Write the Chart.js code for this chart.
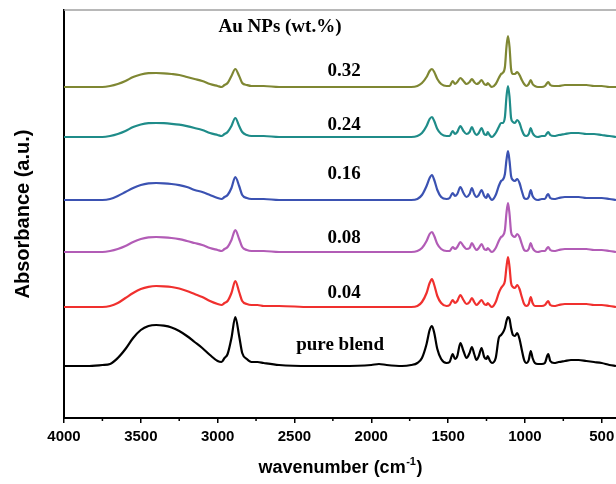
<!DOCTYPE html>
<html>
<head>
<meta charset="utf-8">
<script src="https://cdn.jsdelivr.net/npm/chart.js@4.4.0/dist/chart.umd.min.js"></script>
<style>
  body { margin: 0; background: #fff; }
  canvas { display: block; }
</style>
</head>
<body>
<canvas id="chart" width="616" height="484"></canvas>
<script>
// wavenumbers (cm-1), shared by all spectra
const wavenumbers = [4000, 3850, 3750, 3700, 3650, 3600, 3550, 3500, 3450, 3400,
  3350, 3300, 3250, 3200, 3150, 3100, 3050, 3000, 2975, 2955,
  2935, 2910, 2885, 2860, 2840, 2810, 2780, 2740, 2700, 2600,
  2400, 2200, 2000, 1950, 1900, 1800, 1740, 1700, 1670, 1640,
  1620, 1605, 1590, 1570, 1545, 1510, 1490, 1470, 1455, 1440,
  1420, 1400, 1380, 1360, 1345, 1330, 1315, 1300, 1282, 1265,
  1250, 1242, 1230, 1215, 1190, 1170, 1155, 1145, 1130, 1120,
  1110, 1100, 1090, 1078, 1065, 1050, 1035, 1020, 1005, 990,
  975, 962, 950, 935, 915, 890, 870, 855, 848, 835,
  810, 780, 740, 700, 650, 600, 550, 500, 450, 407];

// absorbance above each baseline (a.u.)
const pureBlend = [0, 0, 1, 2, 8, 17, 28, 36, 40, 41,
  40.3, 38.5, 35, 30, 24, 18, 11, 5, 4, 8,
  12, 28, 49, 30, 13, 7, 4, 4, 3, 1,
  0, 0, 1, 2, 1, 0, 1, 3, 8, 22,
  36, 40, 33, 17, 7, 3, 4, 12, 7, 10,
  23, 15, 8, 13, 19, 12, 6, 10, 18, 9,
  7, 10, 6, 3, 8, 28, 31, 33, 38, 45,
  49, 47, 38, 31, 30, 33, 27, 16, 6, 3,
  6, 15, 8, 3, 2, 2, 3, 10, 12, 5,
  3, 4, 5, 6, 6, 5, 4, 3, 1, 0];
const au004 = [0, 0, 0, 1, 4, 9, 14, 18, 20.2, 21,
  20.7, 20, 18.5, 16, 13, 10, 6, 3, 2, 4,
  6, 14, 26, 15, 6, 3, 2, 2, 1, 1,
  0, 0, 0, 0, 0, 0, 0, 1, 5, 14,
  24, 28, 22, 11, 4, 1, 2, 7, 4, 6,
  12, 7, 3, 5, 9, 5, 2, 4, 7, 3,
  2, 4, 2, 0, 5, 14, 19, 21, 26, 40,
  50, 40, 24, 20, 19, 22, 18, 10, 3, 1,
  3, 10, 4, 1, 1, 1, 2, 5, 6, 2,
  1, 2, 3, 3, 3, 3, 2, 2, 1, 0];
const au008 = [0, 0, 0, 1, 3, 6, 10, 13, 14.6, 15,
  14.7, 14, 12.8, 11, 9, 7, 4, 2, 1, 3,
  5, 12, 22, 13, 5, 2, 1, 1, 1, 0,
  0, 0, 0, 0, 0, 0, 0, 1, 4, 11,
  18, 20, 16, 8, 3, 1, 1, 5, 3, 5,
  10, 6, 3, 4, 9, 5, 2, 4, 8, 3,
  2, 4, 2, 0, 4, 11, 15, 16, 22, 39,
  49, 38, 20, 16, 15, 18, 15, 8, 2, 1,
  3, 9, 4, 1, 0, 1, 1, 4, 5, 2,
  1, 2, 3, 3, 3, 3, 2, 2, 1, 0];
const au016 = [0, 0, 0, 1, 4, 8, 12, 15, 16.6, 17,
  16.7, 16, 14.8, 13, 10, 8, 5, 2, 1, 3,
  5, 12, 23, 14, 5, 2, 1, 1, 1, 0,
  0, 0, 0, 0, 0, 0, 0, 1, 5, 14,
  22, 25, 20, 10, 3, 1, 2, 7, 4, 6,
  13, 7, 3, 6, 12, 6, 3, 5, 10, 4,
  2, 6, 3, 0, 5, 14, 19, 20, 26, 40,
  49, 39, 24, 20, 19, 21, 17, 9, 2, 1,
  3, 10, 4, 1, 0, 1, 1, 5, 6, 2,
  1, 2, 3, 3, 3, 2, 2, 2, 1, 0];
const au024 = [0, 0, 0, 1, 3, 6, 10, 12.5, 13.8, 14,
  13.8, 13.2, 12.3, 10.8, 9, 7, 4, 2, 1, 3,
  5, 11, 19, 11, 5, 2, 1, 1, 1, 0,
  0, 0, 0, 0, 0, 0, 0, 1, 4, 11,
  18, 20, 16, 8, 3, 1, 1, 6, 3, 5,
  11, 6, 3, 5, 10, 5, 2, 4, 9, 3,
  2, 5, 2, 0, 4, 10, 14, 14, 20, 40,
  51, 40, 19, 15, 14, 17, 14, 7, 2, 1,
  3, 9, 4, 1, 0, 1, 1, 4, 5, 2,
  1, 2, 3, 4, 4, 3, 3, 2, 1, 0];
const au032 = [0, 0, 0, 1, 3, 6, 10, 12.5, 13.8, 14,
  13.7, 13, 12, 10, 8, 6, 3, 1, 0, 2,
  4, 11, 18, 11, 4, 2, 1, 1, 1, 0,
  0, 0, 0, 0, 0, 0, 0, 1, 4, 10,
  16, 18, 15, 8, 3, 1, 1, 6, 3, 5,
  9, 6, 3, 5, 8, 5, 3, 4, 7, 3,
  2, 4, 2, 0, 3, 9, 13, 14, 20, 40,
  51, 40, 18, 13, 13, 15, 12, 7, 3, 1,
  3, 7, 3, 1, 0, 0, 1, 4, 5, 2,
  1, 1, 2, 2, 2, 2, 1, 1, 0, 0];

const seriesNames = ['pure blend', '0.04', '0.08', '0.16', '0.24', '0.32'];
const seriesValues = [pureBlend, au004, au008, au016, au024, au032];
const seriesOffsets = [52, 111, 166, 218, 281, 331];
const seriesColors = ['#000000', '#f0302e', '#b25cb6', '#3b52b2', '#1f8c89', '#7f8733'];

// text labels inside the plot: [text, wavenumber, absorbance]
const labelTexts = ['Au NPs (wt.%)', '0.32', '0.24', '0.16', '0.08', '0.04', 'pure blend'];
const labelX = [2594, 2177, 2177, 2177, 2177, 2177, 2203];
const labelY = [391, 347, 293, 244, 180, 125, 73];

const majorTicks = [4000, 3500, 3000, 2500, 2000, 1500, 1000, 500];
const minorTicks = [3750, 3250, 2750, 2250, 1750, 1250, 750];

const datasets = seriesValues.map((vals, i) => ({
  label: seriesNames[i],
  data: vals.map((v, j) => ({ x: wavenumbers[j], y: v + seriesOffsets[i] })),
  borderColor: seriesColors[i],
  borderWidth: 2.2,
  pointRadius: 0,
  cubicInterpolationMode: 'monotone',
  fill: false
}));

const extras = {
  id: 'extras',
  afterDraw(chart) {
    const { ctx, chartArea, scales } = chart;
    const x = scales.x, y = scales.y;
    ctx.save();
    // top frame line
    ctx.strokeStyle = '#a0a0a0';
    ctx.lineWidth = 1.5;
    ctx.beginPath();
    ctx.moveTo(chartArea.left, chartArea.top);
    ctx.lineTo(chartArea.right, chartArea.top);
    ctx.stroke();
    // minor ticks
    ctx.strokeStyle = '#000';
    ctx.lineWidth = 1.5;
    minorTicks.forEach(v => {
      const px = x.getPixelForValue(v);
      ctx.beginPath();
      ctx.moveTo(px, chartArea.bottom);
      ctx.lineTo(px, chartArea.bottom + 3);
      ctx.stroke();
    });
    // labels
    ctx.fillStyle = '#000';
    ctx.textAlign = 'center';
    ctx.textBaseline = 'middle';
    ctx.font = 'bold 19px "Liberation Serif", "Times New Roman", serif';
    labelTexts.forEach((t, i) => {
      ctx.fillText(t, x.getPixelForValue(labelX[i]), y.getPixelForValue(labelY[i]));
    });
    // x title with superscript
    const main = 'wavenumber (cm';
    const sup = '-1';
    const end = ')';
    const f1 = 'bold 18px "Liberation Sans", Arial, sans-serif';
    const f2 = 'bold 11px "Liberation Sans", Arial, sans-serif';
    ctx.font = f1;
    const w1 = ctx.measureText(main).width;
    const w3 = ctx.measureText(end).width;
    ctx.font = f2;
    const w2 = ctx.measureText(sup).width;
    const cx = (chartArea.left + chartArea.right) / 2;
    const ty = 467;
    let sx = cx - (w1 + w2 + w3) / 2;
    ctx.textAlign = 'left';
    ctx.textBaseline = 'alphabetic';
    ctx.font = f1;
    ctx.fillText(main, sx, ty + 6);
    ctx.font = f2;
    ctx.fillText(sup, sx + w1 + 0.5, ty - 2);
    ctx.font = f1;
    ctx.fillText(end, sx + w1 + w2 + 1, ty + 6);
    ctx.restore();
  }
};

new Chart(document.getElementById('chart'), {
  type: 'line',
  data: { datasets },
  options: {
    responsive: false,
    animation: false,
    devicePixelRatio: 1,
    layout: { padding: { top: 10, right: 0, bottom: 0, left: 0 } },
    plugins: { legend: { display: false }, tooltip: { enabled: false } },
    scales: {
      x: {
        type: 'linear',
        reverse: true,
        min: 407,
        max: 4000,
        afterBuildTicks: s => { s.ticks = majorTicks.map(v => ({ value: v })); },
        afterFit: s => { s.height = 66; s.paddingLeft = 0; s.paddingRight = 0; },
        grid: { drawOnChartArea: false, drawTicks: true, tickLength: 5, color: '#000', lineWidth: 1.5 },
        border: { display: true, color: '#000', width: 2 },
        ticks: {
          color: '#000',
          padding: 5,
          maxRotation: 0,
          callback: v => String(v),
          font: { family: '"Liberation Sans", Arial, sans-serif', size: 15, weight: 'bold' }
        }
      },
      y: {
        min: 0,
        max: 408,
        afterFit: s => { s.width = 64; },
        grid: { display: false },
        border: { display: true, color: '#000', width: 2 },
        ticks: { display: false },
        title: {
          display: true,
          text: 'Absorbance (a.u.)',
          color: '#000',
          padding: { top: 11, bottom: 0 },
          font: { family: '"Liberation Sans", Arial, sans-serif', size: 20, weight: 'bold' }
        }
      }
    }
  },
  plugins: [extras]
});
</script>
</body>
</html>
